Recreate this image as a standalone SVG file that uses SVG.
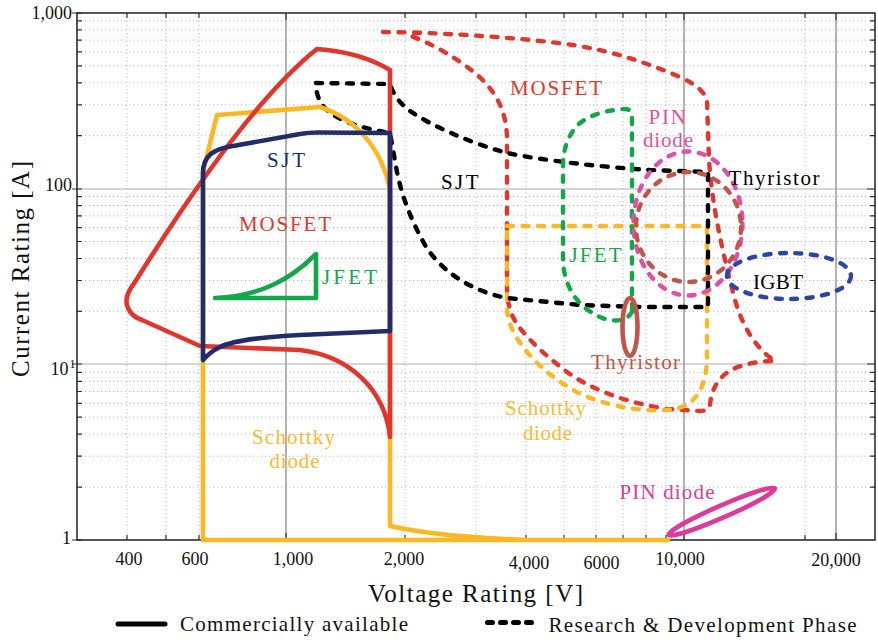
<svg xmlns="http://www.w3.org/2000/svg" width="878" height="640" viewBox="0 0 878 640" font-family="'Liberation Serif', 'DejaVu Serif', serif">
<style>
.minor{fill:none;stroke:#b4b4b4;stroke-width:1;stroke-dasharray:1 3}
.majv{fill:none;stroke:#9a9a9a;stroke-width:1.5}
.majh{fill:none;stroke:#c8c8c8;stroke-width:1.5}
.tick{fill:none;stroke:#333;stroke-width:1.2}
.sol{fill:none;stroke-width:4.6;stroke-linejoin:round;stroke-linecap:round}
.dsh{fill:none;stroke-width:4.4;stroke-linecap:round;stroke-linejoin:round;stroke-dasharray:6 9.5}
.lbl{font-size:21px}
.tk{font-size:18px;fill:#111}
.ax{font-size:25px;fill:#111}
.leg{font-size:21px;fill:#111}
</style>
<rect width="878" height="640" fill="#fff"/>
<g id="grid">
<path class="minor" d="M127,13V540M166,13V540M199,13V540M405,13V540M476,13V540M526,13V540M564,13V540M596,13V540M623,13V540M646,13V540M666,13V540M805,13V540"/>
<path class="minor" d="M77,487.1H875M77,456.2H875M77,434.2H875M77,417.2H875M77,403.3H875M77,391.5H875M77,381.3H875M77,372.3H875M77,311.4H875M77,280.5H875M77,258.5H875M77,241.5H875M77,227.6H875M77,215.8H875M77,205.6H875M77,196.6H875M77,135.7H875M77,104.8H875M77,82.8H875M77,65.8H875M77,51.9H875M77,40.1H875M77,29.9H875M77,20.9H875"/>
<path class="majh" d="M77,189H875M77,364H875"/>
<path class="majv" d="M286,13V540M684,13V540M836,13V540"/>
<path class="tick" d="M77,487.1h5M77,456.2h5M77,434.2h5M77,417.2h5M77,403.3h5M77,391.5h5M77,381.3h5M77,372.3h5M77,311.4h5M77,280.5h5M77,258.5h5M77,241.5h5M77,227.6h5M77,215.8h5M77,205.6h5M77,196.6h5M77,135.7h5M77,104.8h5M77,82.8h5M77,65.8h5M77,51.9h5M77,40.1h5M77,29.9h5M77,20.9h5M72,189h10M72,364h10M72,540h10M72,13h10
M875,487.1h-5M875,456.2h-5M875,434.2h-5M875,417.2h-5M875,403.3h-5M875,391.5h-5M875,381.3h-5M875,372.3h-5M875,311.4h-5M875,280.5h-5M875,258.5h-5M875,241.5h-5M875,227.6h-5M875,215.8h-5M875,205.6h-5M875,196.6h-5M875,135.7h-5M875,104.8h-5M875,82.8h-5M875,65.8h-5M875,51.9h-5M875,40.1h-5M875,29.9h-5M875,20.9h-5M875,189h-8M875,364h-8
M127,13v5M166,13v5M199,13v5M286,13v7M405,13v5M476,13v5M526,13v5M564,13v5M596,13v5M623,13v5M646,13v5M666,13v5M684,13v7M805,13v5M836,13v7
M127,540v-5M166,540v-5M199,540v-5M286,540v-7M405,540v-5M476,540v-5M526,540v-5M564,540v-5M596,540v-5M623,540v-5M646,540v-5M666,540v-5M684,540v-7M805,540v-5M836,540v-7"/>
<rect x="77" y="13" width="798" height="527" fill="none" stroke="#222" stroke-width="1.5"/>
</g>
<g id="axis-labels" font-family="'Liberation Serif', 'DejaVu Serif', serif">
<text class="tk" x="72" y="19" text-anchor="end">1,000</text>
<text class="tk" x="72" y="191" text-anchor="end">100</text>
<text class="tk" x="68.5" y="375" text-anchor="end">10</text>
<text x="69.5" y="368" font-size="12" fill="#111">1</text>
<text class="tk" x="71" y="544" text-anchor="end">1</text>
<text class="tk" x="129" y="565" text-anchor="middle">400</text>
<text class="tk" x="195" y="565" text-anchor="middle">600</text>
<text class="tk" x="293" y="565" text-anchor="middle">1,000</text>
<text class="tk" x="404" y="565" text-anchor="middle">2,000</text>
<text class="tk" x="529" y="569" text-anchor="middle">4,000</text>
<text class="tk" x="601.5" y="569" text-anchor="middle">6000</text>
<text class="tk" x="680" y="565" text-anchor="middle">10,000</text>
<text class="tk" x="836" y="566" text-anchor="middle">20,000</text>
<text class="ax" x="368" y="602" textLength="215">Voltage Rating [V]</text>
<text class="ax" transform="translate(29,377) rotate(-90)" x="0" y="0" textLength="216">Current Rating [A]</text>
</g>
<g id="connectors">
<path id="mosfet-rd" class="dsh" stroke="#E2352B" d="M383,32 L413,32.5 C480,35 530,39 573,45 C610,51 640,60 680,77 C695,84 703,90 707,100 L709,160 C712,205 722,250 735,300 C742,325 755,348 775,361 C760,361 740,364 728,372 C716,380 711,393 710,405 Q709,411 700,411 L667,409 C630,403 595,392 567,372 C545,355 522,335 513,317 Q507,303 507,290 L507,140 C507,110 495,90 475,73 C455,57 430,42 405,34"/>
<path id="schottky-rd" class="dsh" stroke="#FBB823" d="M507,226 L707,226 L707,360 C706,385 697,405 675,409 C650,413 615,408 585,396 C555,382 530,360 515,335 Q508,322 507,310 Z"/>
<path id="sjt-rd" class="dsh" stroke="#000" d="M316,83 L390,84 Q395,100 410,111 C430,125 470,143 507,153 C540,160 600,167 650,170 L708,172 L708,307 L640,307 L580,305 L507,298 C470,291 440,270 425,245 C412,222 402,197 397,172 L390,133 C365,129 340,122 327,110 C318,102 316,92 316,83 Z"/>
<path id="jfet-rd" class="dsh" stroke="#13A64A" d="M632,310 L632,117 Q632,109 625,109 C605,110 585,116 575,128 C566,140 563,152 563,168 L563,262 C565,290 580,310 605,319 Q625,324 632,312"/>
<ellipse id="pin-rd" class="dsh" stroke="#DD52A8" cx="688" cy="223.5" rx="54.5" ry="72"/>
<ellipse id="thy-rd" class="dsh" stroke="#C25449" cx="688.5" cy="227" rx="52.5" ry="55"/>
<ellipse id="igbt-rd" class="dsh" stroke="#2E45A8" cx="789" cy="276" rx="62" ry="23"/>
<path id="schottky-c" class="sol" stroke="#FBB823" d="M668,540 L203,540 L203,172 L217,115 L320,107 C355,118 382,148 390,190 L390,526 Q440,537 530,540"/>
<path id="mosfet-c" class="sol" stroke="#E2352B" d="M390,437 L390,70 Q360,52 317,49 Q245,106 135,282 C128,291 124,300 128,308 C131,315 136,318 142,320 L200,346 L300,350 C350,356 385,390 390,437 Z"/>
<path id="sjt-c" class="sol" stroke="#232C6B" d="M203,360 L203,173 C203,156 213,149 233,146 L300,134 Q308,132.5 318,132.5 L390,133 L390,331 L300,335 C260,337 232,341 220,347 Q210,352 203,360 Z"/>
<path id="jfet-c" class="sol" stroke="#13A64A" d="M215,298 L316,298 L316,254 C290,280 260,296 215,298 Z"/>
<ellipse id="thy-c" class="sol" stroke="#C25449" cx="630" cy="327" rx="7.5" ry="29"/>
<ellipse id="pin-c" class="sol" stroke="#DD3A9A" cx="721.7" cy="511.7" rx="58" ry="6" transform="rotate(-23.6 721.7 511.7)"/>
</g>
<g id="labels" font-family="'Liberation Serif', 'DejaVu Serif', serif">
<text class="lbl" x="267" y="166.5" fill="#232C6B" textLength="38">SJT</text>
<text class="lbl" x="239" y="231" fill="#E2352B" textLength="92">MOSFET</text>
<text class="lbl" x="322" y="283.5" fill="#13A64A" textLength="55">JFET</text>
<text class="lbl" x="252" y="444" fill="#F7BA32" textLength="83">Schottky</text>
<text class="lbl" x="269.5" y="468" fill="#F7BA32" textLength="50">diode</text>
<text class="lbl" x="510" y="95" fill="#E2352B" textLength="92">MOSFET</text>
<text class="lbl" x="441" y="188.5" fill="#000" textLength="37.5">SJT</text>
<text class="lbl" x="648.5" y="123.5" fill="#DD52A8" textLength="37.5">PIN</text>
<text class="lbl" x="643" y="147" fill="#DD52A8" textLength="50">diode</text>
<text class="lbl" x="728.5" y="185" fill="#000" textLength="91">Thyristor</text>
<text class="lbl" x="569.5" y="262" fill="#13A64A" textLength="52">JFET</text>
<text class="lbl" x="591" y="368.5" fill="#C25449" textLength="89">Thyristor</text>
<text class="lbl" x="753" y="288.5" fill="#000" textLength="50">IGBT</text>
<text class="lbl" x="505" y="415" fill="#F7BA32" textLength="81">Schottky</text>
<text class="lbl" x="523" y="439.5" fill="#F7BA32" textLength="49">diode</text>
<text class="lbl" x="619.5" y="498.5" fill="#DD3A9A" textLength="95">PIN diode</text>
</g>
<g id="legend" font-family="'Liberation Serif', 'DejaVu Serif', serif">
<path d="M118,624 L165,624" stroke="#000" stroke-width="5" stroke-linecap="round" fill="none"/>
<text class="leg" x="180" y="631" textLength="228">Commercially available</text>
<path d="M487.5,622.5 L532.5,622.5" stroke="#000" stroke-width="5" stroke-linecap="round" stroke-dasharray="5 8" fill="none"/>
<text class="leg" x="548.5" y="631.5" textLength="308">Research &amp; Development Phase</text>
</g>
</svg>
